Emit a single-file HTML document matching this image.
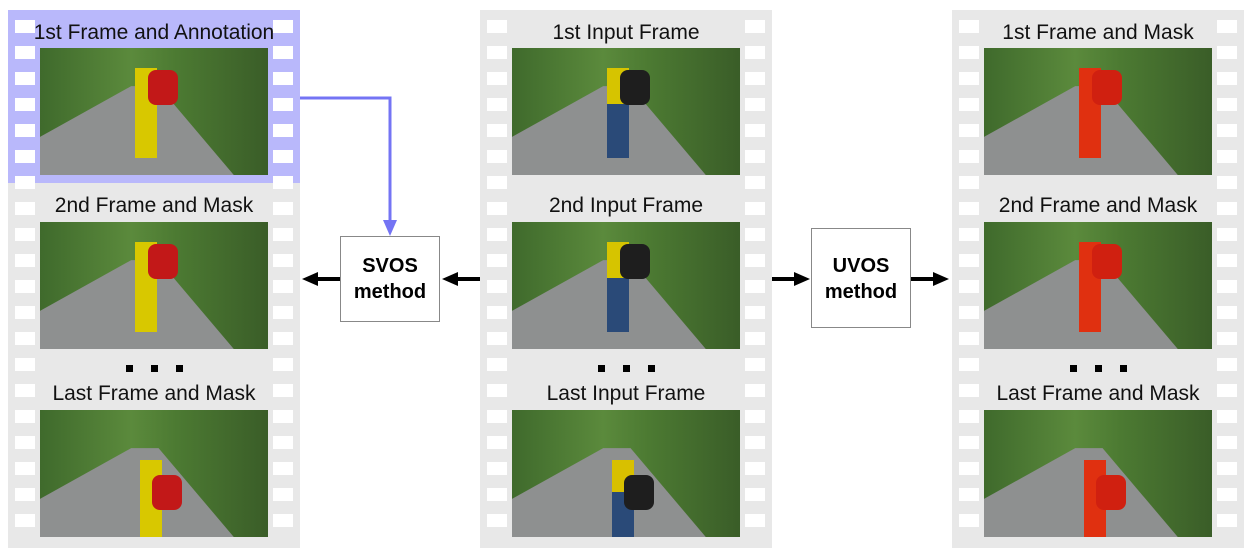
<!DOCTYPE html><html><head><style>
body{margin:0;width:1251px;height:556px;background:#fff;position:relative;overflow:hidden;font-family:"Liberation Sans",sans-serif}
.strip{position:absolute;top:10px;width:292px;height:538px;background:#e8e8e8}
.hl{position:absolute;left:8px;top:10px;width:292px;height:173px;background:#b9b8fb}
.hole{position:absolute;width:20px;height:13px;background:#fff}
.lbl{position:absolute;width:292px;text-align:center;font-size:21px;color:#111}
.img{position:absolute;width:228px;height:127px;overflow:hidden;background:linear-gradient(90deg,#3f6a2c,#5b8a3c 40%,#4c7a32 60%,#3a5d28)}
.img .road{position:absolute;left:0;top:0;width:100%;height:100%;background:#8e9090;clip-path:polygon(40% 30%,52% 30%,85% 100%,0 100%,0 70%)}
.img .fig{position:absolute;width:22px;height:90px;top:20px;left:95px}
.img .bag{position:absolute;width:30px;height:35px;top:22px;left:108px;border-radius:8px}
.dot{position:absolute;width:7px;height:7px;background:#000}
.box{position:absolute;width:100px;border:1.5px solid #888;background:#fff;text-align:center;font-weight:bold;font-size:20px;line-height:26px;box-sizing:border-box}
</style></head><body>
<div class="strip" style="left:8px"></div>
<div class="strip" style="left:480px"></div>
<div class="strip" style="left:952px"></div>
<div class="hl"></div>
<div id="holes"></div>
<svg width="1251" height="556" style="position:absolute;left:0;top:0">
<polyline points="300,98 390,98 390,222" fill="none" stroke="#7474f4" stroke-width="3"/>
<polygon points="383,220 397,220 390,236" fill="#7474f4"/>
<line x1="480" y1="279" x2="456" y2="279" stroke="#000" stroke-width="4"/><polygon points="458,272 458,286 442,279" fill="#000"/>
<line x1="340" y1="279" x2="316" y2="279" stroke="#000" stroke-width="4"/><polygon points="318,272 318,286 302,279" fill="#000"/>
<line x1="772" y1="279" x2="796" y2="279" stroke="#000" stroke-width="4"/><polygon points="794,272 794,286 810,279" fill="#000"/>
<line x1="911" y1="279" x2="935" y2="279" stroke="#000" stroke-width="4"/><polygon points="933,272 933,286 949,279" fill="#000"/>
</svg>
<div class="box" style="left:340px;top:236px;height:86px;padding-top:16px">SVOS<br>method</div>
<div class="box" style="left:811px;top:228px;height:100px;padding-top:24px">UVOS<br>method</div>
<div id="c"></div>
<script>
var h='';
[8,480,952].forEach(function(x){for(var y=20;y<540;y+=26){h+='<div class="hole" style="left:'+(x+7)+'px;top:'+y+'px"></div><div class="hole" style="left:'+(x+265)+'px;top:'+y+'px"></div>';}});
document.getElementById('holes').innerHTML=h;
var L=[["1st Frame and Annotation","2nd Frame and Mask","Last Frame and Mask"],["1st Input Frame","2nd Input Frame","Last Input Frame"],["1st Frame and Mask","2nd Frame and Mask","Last Frame and Mask"]];
var cols=[["#d8c800","#c21818"],["#d6c400","#1e1e1e"],["#e03010","#d02010"]];
var s='';
[8,480,952].forEach(function(x,i){
 s+='<div class="lbl" style="left:'+x+'px;top:21px">'+L[i][0]+'</div>';
 s+='<div class="lbl" style="left:'+x+'px;top:194px">'+L[i][1]+'</div>';
 s+='<div class="lbl" style="left:'+x+'px;top:382px">'+L[i][2]+'</div>';
 [118,143,168].forEach(function(d){s+='<div class="dot" style="left:'+(x+d)+'px;top:365px"></div>';});
 [48,222,410].forEach(function(y,k){
  var fc=cols[i][0],bc=cols[i][1];
  if(i==1)fc=k==2?'#d8c000':'#d6c400';
  s+='<div class="img" style="left:'+(x+32)+'px;top:'+y+'px"><div class="road"></div><div class="fig" style="background:'+fc+(i==1?';background:linear-gradient('+fc+' 40%,#2a4a78 40%)':'')+';'+(k==2?'top:50px;left:100px;height:80px':'')+'"></div><div class="bag" style="background:'+bc+';'+(k==2?'top:65px;left:112px':'')+'"></div></div>';
 });
});
document.getElementById('c').innerHTML=s;
</script>
</body></html>
